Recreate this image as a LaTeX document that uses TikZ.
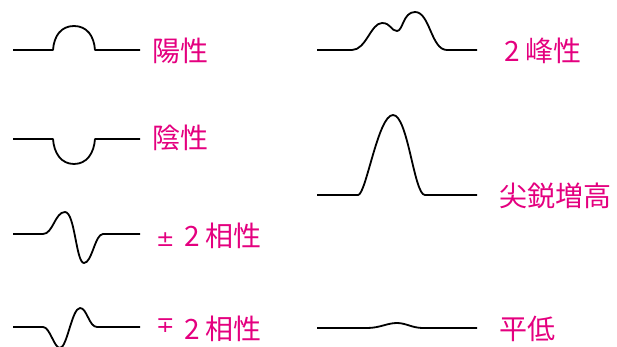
\documentclass[tikz,border=0pt]{standalone}
\usepackage{fontspec}
\setmainfont{Noto Sans CJK JP}
\newfontfamily\symfont{DejaVu Sans}
\definecolor{lbl}{HTML}{E4007F}
\begin{document}
\begin{tikzpicture}[x=1pt,y=-1pt,
  wave/.style={draw=black,line width=1.8pt,line join=round},
  lab/.style={text=lbl,font=\fontsize{28}{32}\selectfont,anchor=west,inner sep=0pt},
  sym/.style={text=lbl,font=\symfont\fontsize{22}{25}\selectfont,anchor=west,inner sep=0pt}]
\useasboundingbox (0,0) rectangle (617,347);
% left column
\draw[wave] (13,50) -- (53,50) .. controls (54,36) and (61,26) .. (74,26) .. controls (87,26) and (94,36) .. (95,50) -- (140,50);
\draw[wave] (13,139) -- (53,139) .. controls (54,153) and (61,164) .. (74,164) .. controls (87,164) and (94,153) .. (95,139) -- (140,139);
\draw[wave] (13,234) -- (43,234) .. controls (53,234) and (55,212) .. (65,212) .. controls (75,212) and (76,263) .. (84,263) .. controls (92,263) and (95,234) .. (103,234) -- (140,234);
\draw[wave] (13,327) -- (43,327) .. controls (50,327) and (54,348) .. (60,348) .. controls (67,348) and (72,308) .. (80,308) .. controls (87,308) and (89,327) .. (97,327) -- (140,327);
% right column
\draw[wave] (317,50) -- (352,50) .. controls (366,50) and (371,23) .. (382,23) .. controls (391,23) and (391,31) .. (397,31) .. controls (403,31) and (403,12) .. (415,12) .. controls (430,12) and (431,50) .. (447,50) -- (477,50);
\draw[wave] (317,195) -- (358,195) .. controls (366,195) and (378,115) .. (393,115) .. controls (408,115) and (414,195) .. (425,195) -- (477,195);
\draw[wave] (317,328) -- (367,328) .. controls (380,328) and (387,323) .. (397,323) .. controls (406,323) and (412,328) .. (423,328) -- (477,328);
% labels
\node[lab] (yo) at (152,51) {陽性};
\node[lab] (in) at (152,138) {陰性};
\node[sym] (pmsign) at (156,240) {±};
\node[lab] (pm) at (184,236) {2\hspace{0.22em}相性};
\node[sym] (mpsign) at (156,326) {∓};
\node[lab] (mp) at (184,329) {2\hspace{0.22em}相性};
\node[lab] (nh) at (504,51) {2\hspace{0.22em}峰性};
\node[lab] (ss) at (499,196) {尖鋭増高};
\node[lab] (hl) at (499,329) {平低};
\end{tikzpicture}
\end{document}
